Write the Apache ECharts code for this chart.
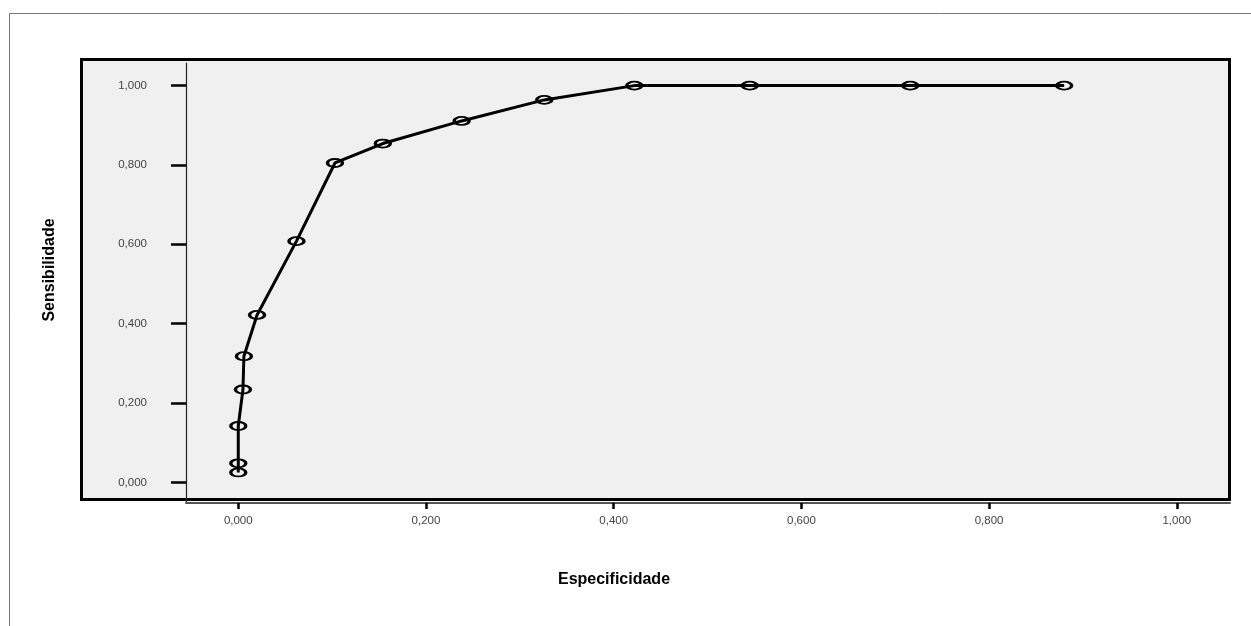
<!DOCTYPE html>
<html>
<head>
<meta charset="utf-8">
<script src="https://cdn.jsdelivr.net/npm/echarts@6/dist/echarts.min.js"></script>
<style>
html,body{margin:0;padding:0;background:#fff;}
#chart{width:1251px;height:626px;}
</style>
</head>
<body>
<div id="chart"></div>
<script>
// ROC curve points (1 - specificity axis labelled "Especificidade", sensitivity)
var especificidade = [0.000, 0.000, 0.000, 0.005, 0.006, 0.020, 0.062, 0.103, 0.154, 0.238, 0.326, 0.422, 0.545, 0.716, 0.880];
var sensibilidade  = [0.025, 0.048, 0.142, 0.234, 0.318, 0.422, 0.608, 0.805, 0.854, 0.911, 0.964, 1.000, 1.000, 1.000, 1.000];
var tickValues = [0, 0.2, 0.4, 0.6, 0.8, 1.0];
var xTitle = 'Especificidade';
var yTitle = 'Sensibilidade';

var points = especificidade.map(function (x, i) { return [x, sensibilidade[i]]; });
function fmt(v) { return v.toFixed(3).replace('.', ','); }

var chart = echarts.init(document.getElementById('chart'), null, { renderer: 'canvas' });
chart.setOption({
  backgroundColor: '#ffffff',
  animation: false,
  textStyle: { fontFamily: 'Liberation Sans, Arial, sans-serif' },
  graphic: [
    { type: 'line', silent: true, z: -100, shape: { x1: 9.5, y1: 13.5, x2: 1251, y2: 13.5 }, style: { stroke: '#777', lineWidth: 1 } },
    { type: 'line', silent: true, z: -100, shape: { x1: 9.5, y1: 13.5, x2: 9.5, y2: 626 }, style: { stroke: '#777', lineWidth: 1 } },
    { type: 'rect', silent: true, z: -100, shape: { x: 81.5, y: 59.5, width: 1148, height: 440 }, style: { fill: '#f0f0f0', stroke: '#000', lineWidth: 3 } },
    { type: 'text', silent: true, x: 614, y: 580, style: { text: xTitle, font: 'bold 16px "Liberation Sans", Arial, sans-serif', fill: '#000', textAlign: 'center', textVerticalAlign: 'middle' } },
    { type: 'text', silent: true, x: 50, y: 270, rotation: Math.PI / 2, style: { text: yTitle, font: 'bold 16px "Liberation Sans", Arial, sans-serif', fill: '#000', textAlign: 'center', textVerticalAlign: 'middle' } }
  ],
  grid: { left: 186, right: 21, top: 63, bottom: 123, containLabel: false },
  xAxis: {
    type: 'value', min: -0.0557, max: 1.0567,
    axisLine: { show: true, onZero: false, lineStyle: { color: '#555', width: 2 } },
    axisTick: { show: true, inside: false, length: 6, customValues: tickValues, lineStyle: { color: '#000', width: 2.5 } },
    axisLabel: { show: true, margin: 12, customValues: tickValues, formatter: fmt, color: '#444', fontSize: 11.5, fontFamily: 'Liberation Sans, Arial, sans-serif' },
    splitLine: { show: false }
  },
  yAxis: {
    type: 'value', min: -0.052, max: 1.057,
    axisLine: { show: true, onZero: false, lineStyle: { color: '#222', width: 1.2 } },
    axisTick: { show: true, inside: false, length: 15, customValues: tickValues, lineStyle: { color: '#000', width: 2.5 } },
    axisLabel: { show: true, margin: 39, customValues: tickValues, formatter: fmt, color: '#444', fontSize: 11.5, fontFamily: 'Liberation Sans, Arial, sans-serif' },
    splitLine: { show: false }
  },
  series: [{
    type: 'line',
    data: points,
    showAllSymbol: true,
    symbol: 'circle',
    symbolSize: [15, 8],
    lineStyle: { color: '#000', width: 3 },
    itemStyle: { color: 'rgba(0,0,0,0)', borderColor: '#000', borderWidth: 2.5 },
    emphasis: { disabled: true },
    z: 5
  }]
});
</script>
</body>
</html>
